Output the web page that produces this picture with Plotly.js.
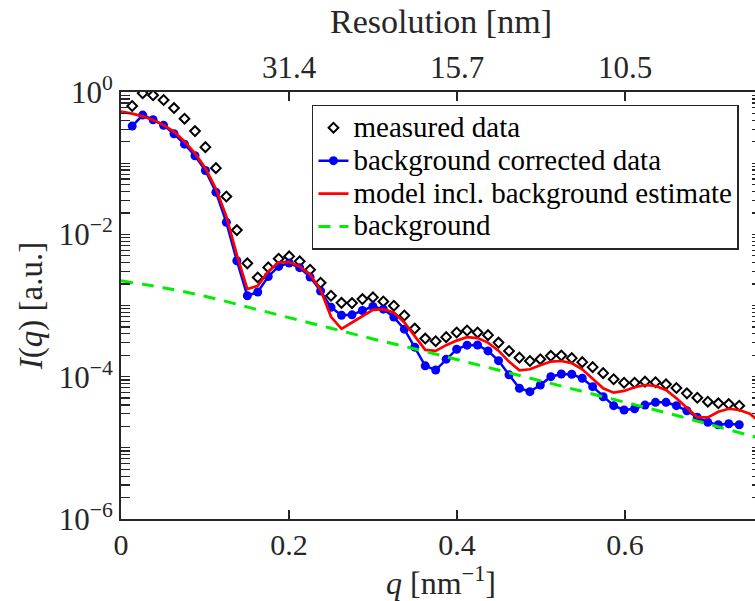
<!DOCTYPE html>
<html>
<head>
<meta charset="utf-8">
<script src="https://cdn.plot.ly/plotly-3.0.1.min.js"></script>
<style>
html,body{margin:0;padding:0;overflow:hidden;background:#ffffff;}
#chart{width:763px;height:601px;}
</style>
</head>
<body>
<div id="chart"></div>
<script>
// scattering vector q [nm^-1] of the measured samples
const q = [0.0133, 0.0258, 0.0382, 0.0507, 0.0631, 0.0756, 0.0881, 0.1005, 0.1130, 0.1254,
  0.1379, 0.1504, 0.1628, 0.1753, 0.1877, 0.2002, 0.2127, 0.2251, 0.2376, 0.2500,
  0.2625, 0.2750, 0.2874, 0.2999, 0.3123, 0.3248, 0.3373, 0.3497, 0.3622, 0.3746,
  0.3871, 0.3996, 0.4120, 0.4245, 0.4369, 0.4494, 0.4619, 0.4743, 0.4868, 0.4992,
  0.5117, 0.5242, 0.5366, 0.5491, 0.5615, 0.5740, 0.5865, 0.5989, 0.6114, 0.6238,
  0.6363, 0.6488, 0.6612, 0.6737, 0.6861, 0.6986, 0.7111, 0.7235, 0.7360];

// measured data (diamonds)
const measured = [0.635, 0.959, 0.899, 0.771, 0.595, 0.422, 0.282, 0.168, 0.0851, 0.0340,
  0.01146, 0.00391, 0.00248, 0.00343, 0.00455, 0.00490, 0.00417, 0.00318, 0.00209, 0.00137,
  0.00109, 0.00108, 0.00123, 0.00130, 0.00114, 0.000991, 0.000723, 0.000474, 0.000343, 0.000315,
  0.000359, 0.000417, 0.000445, 0.000417, 0.000383, 0.000301, 0.000230, 0.000185, 0.000166, 0.000176,
  0.000196, 0.000198, 0.000182, 0.000160, 0.000136, 0.000112, 9.19e-5, 8.22e-5, 8.22e-5, 8.51e-5,
  8.34e-5, 7.81e-5, 6.93e-5, 5.83e-5, 5.06e-5, 4.45e-5, 4.22e-5, 4.12e-5, 3.91e-5];

// background corrected data (blue)
const corrected = [0.332, 0.474, 0.408, 0.340, 0.259, 0.185, 0.127, 0.0789, 0.0391, 0.01476,
  0.00426, 0.00137, 0.00155, 0.00256, 0.00354, 0.00395, 0.00340, 0.00251, 0.00160, 0.000944,
  0.000728, 0.000739, 0.000851, 0.000968, 0.000889, 0.000687, 0.000465, 0.000260, 0.000142, 0.000124,
  0.000176, 0.000243, 0.000277, 0.000279, 0.000230, 0.000168, 0.000106, 6.87e-5, 6.15e-5, 7.64e-5,
  1.00e-4, 1.09e-4, 1.08e-4, 9.49e-5, 7.23e-5, 5.23e-5, 3.91e-5, 3.40e-5, 3.54e-5, 3.99e-5,
  4.36e-5, 4.36e-5, 3.91e-5, 3.32e-5, 2.68e-5, 2.28e-5, 2.11e-5, 2.18e-5, 2.11e-5];

// model incl. background estimate (red) – evaluated at q = 0, the sample grid and two extra points
const qModelStart = [0];
const qModelEnd = [0.7485, 0.7609];
const model = [0.530,
  0.497, 0.455, 0.404, 0.343, 0.277, 0.202, 0.137, 0.0851, 0.0436, 0.0179,
  0.00513, 0.00170, 0.00189, 0.00301, 0.00404, 0.00408, 0.00354, 0.00270, 0.00166, 0.000693,
  0.000470, 0.000577, 0.000716, 0.000869, 0.000889, 0.000796, 0.000577, 0.000366, 0.000238, 0.000230,
  0.000277, 0.000321, 0.000359, 0.000348, 0.000301, 0.000232, 0.000163, 0.000123, 0.000127, 0.000145,
  0.000163, 0.000166, 0.000155, 0.000127, 9.48e-5, 6.87e-5, 5.96e-5, 6.30e-5, 7.10e-5, 7.64e-5,
  7.40e-5, 6.50e-5, 4.97e-5, 3.59e-5, 2.68e-5, 2.68e-5, 3.21e-5, 3.54e-5, 3.40e-5,
  3.02e-5, 2.29e-5];

// background estimate (green dashed)
const qBackground = [0, 0.05, 0.10, 0.15, 0.20, 0.25, 0.30, 0.35, 0.40, 0.45, 0.50, 0.55, 0.60, 0.65, 0.70, 0.762];
const background = [2.22e-3, 1.78e-3, 1.35e-3, 9.55e-4, 6.76e-4, 4.79e-4, 3.39e-4, 2.45e-4, 1.74e-4, 1.23e-4,
  8.71e-5, 6.17e-5, 4.37e-5, 3.09e-5, 2.14e-5, 1.35e-5];

// legend labels
const seriesNames = ['measured data', 'background corrected data', 'model incl. background estimate', 'background'];

// axis ticks
const xTickVals = [0, 0.2, 0.4, 0.6];
const xTickText = ['0', '0.2', '0.4', '0.6'];
const topTickVals = [0.2, 0.4, 0.6];
const topTickText = ['31.4', '15.7', '10.5'];
const yTickVals = [1e-6, 1e-4, 1e-2, 1];
const yTickText = ['10<sup>\u22126</sup>', '10<sup>\u22124</sup>', '10<sup>\u22122</sup>', '10<sup>0</sup>'];
const yMinorDecades = [-6, -5, -4, -3, -2, -1];
const yMinorMantissas = [1, 2, 3, 4, 5, 6, 7, 8, 9];

const qModel = qModelStart.concat(q, qModelEnd);
const yMinorVals = [];
yMinorDecades.forEach(function (d) {
  yMinorMantissas.forEach(function (m) {
    if (!(m === 1 && d % 2 === 0)) yMinorVals.push(m * Math.pow(10, d));
  });
});
function legendLabel(s) { return '<span style="font-size:29px">' + s + '</span>'; }

const FONT = 'Liberation Serif';
const INK = '#262626';
const XMAX = 0.7619;

const traces = [
  {
    x: q, y: measured, name: legendLabel(seriesNames[0]), type: 'scatter', mode: 'markers',
    marker: {symbol: 'diamond-open', size: 7.5, color: '#000000', line: {width: 2, color: '#000000'}}
  },
  {
    x: q, y: corrected, name: legendLabel(seriesNames[1]), type: 'scatter', mode: 'lines+markers',
    line: {color: '#0000ff', width: 2.5},
    marker: {symbol: 'circle', size: 9, color: '#0000ff'}
  },
  {
    x: qModel, y: model, name: legendLabel(seriesNames[2]), type: 'scatter', mode: 'lines',
    line: {color: '#ff0000', width: 2.7}
  },
  {
    x: qBackground, y: background, name: legendLabel(seriesNames[3]), type: 'scatter', mode: 'lines',
    line: {color: '#00ee00', width: 3, dash: '12px,9px', shape: 'spline'}
  },
  {
    x: [null], y: [null], xaxis: 'x2', yaxis: 'y', type: 'scatter', mode: 'markers',
    showlegend: false, hoverinfo: 'skip'
  }
];

const layout = {
  width: 763, height: 601,
  margin: {l: 121, r: 2, t: 92, b: 82, pad: 0},
  paper_bgcolor: '#ffffff', plot_bgcolor: '#ffffff',
  font: {family: FONT, color: INK, size: 30},
  showlegend: true,
  legend: {
    x: 0.2984, y: 0.9700, xanchor: 'left', yanchor: 'top',
    bgcolor: '#ffffff', bordercolor: INK, borderwidth: 1.5,
    font: {family: FONT, size: 23, color: '#000000'},
    tracegroupgap: 0
  },
  xaxis: {
    range: [0, XMAX], type: 'linear',
    tickmode: 'array', tickvals: xTickVals, ticktext: xTickText,
    ticks: 'inside', ticklen: 9, tickwidth: 1.5, tickcolor: INK,
    showline: true, linewidth: 2, linecolor: INK, mirror: false,
    showgrid: false, zeroline: false, ticklabelstandoff: -2,
    tickfont: {family: FONT, size: 30, color: INK},
    title: {text: '<i>q</i> [nm<sup>\u22121</sup>]', font: {family: FONT, size: 32, color: INK}, standoff: 8}
  },
  xaxis2: {
    overlaying: 'x', side: 'top', anchor: 'y', matches: 'x',
    range: [0, XMAX], type: 'linear',
    tickmode: 'array', tickvals: topTickVals, ticktext: topTickText,
    ticks: 'inside', ticklen: 9, tickwidth: 1.5, tickcolor: INK,
    showline: true, linewidth: 2, linecolor: INK,
    showgrid: false, zeroline: false,
    tickfont: {family: FONT, size: 31, color: INK},
    title: {text: 'Resolution [nm]', font: {family: FONT, size: 34, color: INK}, standoff: 6}
  },
  yaxis: {
    type: 'log', range: [-6, 0],
    tickmode: 'array', tickvals: yTickVals, ticktext: yTickText,
    ticks: 'inside', ticklen: 9, tickwidth: 1.5, tickcolor: INK,
    showline: true, linewidth: 2, linecolor: INK, mirror: 'allticks',
    showgrid: false, zeroline: false,
    tickfont: {family: FONT, size: 31, color: INK},
    minor: {tickmode: 'array', tickvals: yMinorVals, ticks: 'inside', ticklen: 5, tickwidth: 1.2, tickcolor: INK, showgrid: false},
    title: {text: '<i>I</i>(<i>q</i>) [a.u.]', font: {family: FONT, size: 33, color: INK}, standoff: 6}
  }
};

Plotly.newPlot('chart', traces, layout, {displayModeBar: false, staticPlot: true});
</script>
</body>
</html>
